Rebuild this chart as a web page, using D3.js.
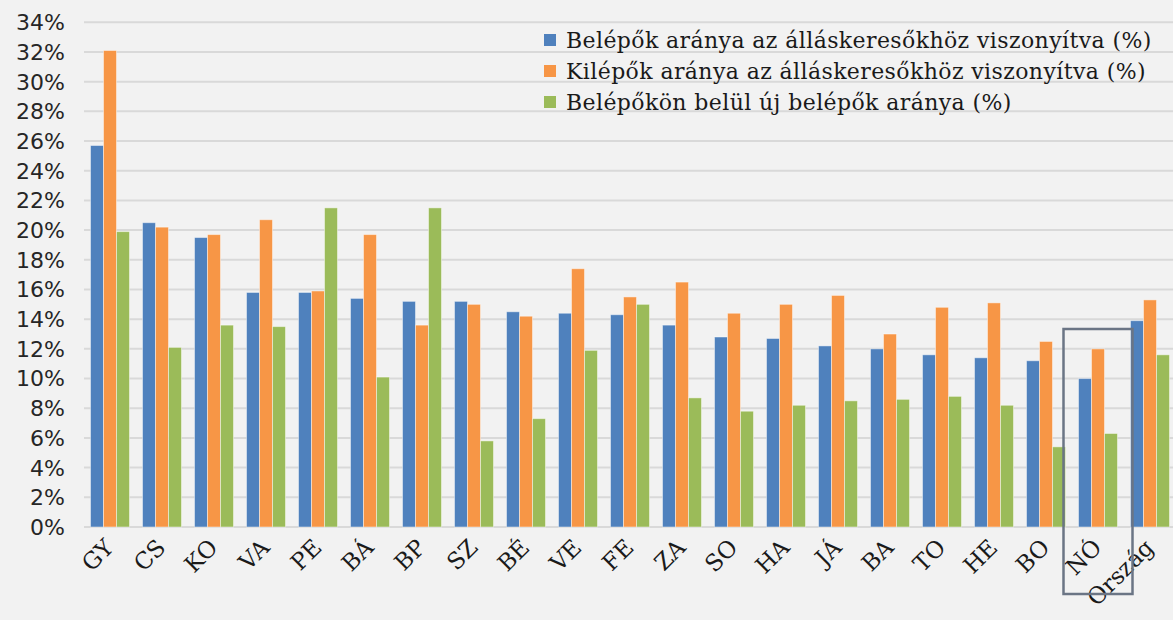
<!DOCTYPE html>
<html><head><meta charset="utf-8">
<script src="https://cdn.jsdelivr.net/npm/d3@7"></script>
<style>html,body{margin:0;padding:0;background:#f2f2f2;}svg{display:block;}</style>
</head><body>
<svg id="chart" width="1173" height="620"></svg>
<script>
const categories = ["GY","CS","KO","VA","PE","BÁ","BP","SZ","BÉ","VE","FE","ZA","SO","HA","JÁ","BA","TO","HE","BO","NÓ","Ország"];
const seriesNames = ["Belépők aránya az álláskeresőkhöz viszonyítva (%)","Kilépők aránya az álláskeresőkhöz viszonyítva (%)","Belépőkön belül új belépők aránya (%)"];
const belepok = [25.7,20.5,19.5,15.8,15.8,15.4,15.2,15.2,14.5,14.4,14.3,13.6,12.8,12.7,12.2,12.0,11.6,11.4,11.2,10.0,13.9];
const kilepok = [32.1,20.2,19.7,20.7,15.9,19.7,13.6,15.0,14.2,17.4,15.5,16.5,14.4,15.0,15.6,13.0,14.8,15.1,12.5,12.0,15.3];
const ujBelepok = [19.9,12.1,13.6,13.5,21.5,10.1,21.5,5.8,7.3,11.9,15.0,8.7,7.8,8.2,8.5,8.6,8.8,8.2,5.4,6.3,11.6];
const yTicks = [0,2,4,6,8,10,12,14,16,18,20,22,24,26,28,30,32,34];
const colors = ["#4f81bd","#f79646","#9bbb59"];
const highlighted = "NÓ";

const series = [belepok, kilepok, ujBelepok];
const svg = d3.select("#chart");

const y = d3.scaleLinear().domain([0,34]).range([527,22.3]);
const x0 = d3.scaleBand().domain(categories).range([84,1176]).paddingInner(0.25).paddingOuter(0.125);
const x1 = d3.scaleBand().domain([0,1,2]).range([0,x0.bandwidth()]);

// gridlines
svg.append("g").selectAll("line").data(yTicks).join("line")
  .attr("x1",84).attr("x2",1173)
  .attr("y1",d=>y(d)).attr("y2",d=>y(d))
  .attr("stroke","#d9d9d9").attr("stroke-width",2);

// y labels
svg.append("g").selectAll("text").data(yTicks).join("text")
  .attr("x",65).attr("y",d=>y(d)).attr("dy","0.36em")
  .attr("text-anchor","end")
  .attr("font-family","DejaVu Sans, sans-serif").attr("font-size",22)
  .attr("fill","#262626")
  .text(d=>d+"%");

// bars
const groups = svg.append("g").selectAll("g").data(categories).join("g")
  .attr("transform",d=>`translate(${x0(d)},0)`);
groups.selectAll("rect").data((d,i)=>series.map((s,k)=>({k,v:s[i]}))).join("rect")
  .attr("x",d=>x1(d.k)).attr("width",x1.bandwidth())
  .attr("y",d=>y(d.v)).attr("height",d=>y(0)-y(d.v))
  .attr("fill",d=>colors[d.k])
  .attr("stroke","rgba(255,255,255,0.45)").attr("stroke-width",1);

// x labels
svg.append("g").selectAll("text").data(categories).join("text")
  .attr("transform",d=>`translate(${x0(d)+x0.bandwidth()/2+5},${549}) rotate(-45)`)
  .attr("text-anchor","end")
  .attr("font-family","DejaVu Serif, serif").attr("font-size",23)
  .attr("fill","#1a1a1a")
  .text(d=>d);

// highlight box
svg.append("rect")
  .attr("x",x0(highlighted)-15).attr("width",x0.bandwidth()+30)
  .attr("y",329).attr("height",265)
  .attr("fill","none").attr("stroke","#6b7585").attr("stroke-width",2.5);

// legend
const lg = svg.append("g").selectAll("g").data(seriesNames).join("g")
  .attr("transform",(d,i)=>`translate(544,${40+i*31})`);
lg.append("rect").attr("x",0).attr("y",-6).attr("width",12).attr("height",12)
  .attr("fill",(d,i)=>colors[i]);
lg.append("text").attr("x",22).attr("y",0).attr("dy","0.35em")
  .attr("font-family","DejaVu Serif, serif").attr("font-size",22)
  .attr("letter-spacing",0.4)
  .attr("fill","#1a1a1a")
  .text(d=>d);
</script>
</body></html>
